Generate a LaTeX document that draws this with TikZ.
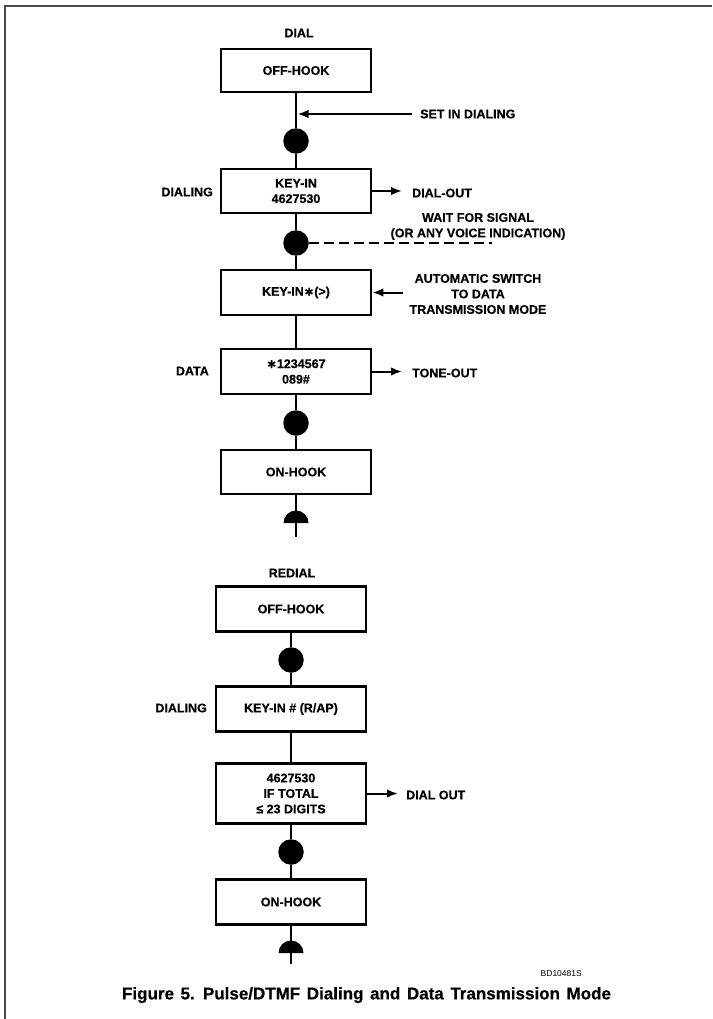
\documentclass[tikz,border=0pt]{standalone}
\usepackage{fontspec}
\setmainfont{Liberation Sans}[BoldFeatures={FakeBold=0.5}]
\newfontfamily\symfont{DejaVu Sans}[BoldFeatures={FakeBold=0.5}]
\usetikzlibrary{arrows.meta}
\newcommand{\cast}{{\symfont\bfseries ∗}}
\begin{document}
\begin{tikzpicture}[x=1pt,y=-1pt,
  txt/.style={font=\fontsize{12.5}{15.5}\selectfont\bfseries, inner sep=0pt, align=center},
  stepbox/.style={draw, line width=2.8pt, minimum width=150pt, inner sep=0pt,
    font=\fontsize{12.5}{15.5}\selectfont\bfseries, align=center},
  dot/.style={circle, fill=black, minimum size=25.5pt, inner sep=0pt},
  link/.style={line width=2.3pt},
  flow/.style={line width=2pt, -{Latex[length=11pt,width=8.5pt]}},
  dome/.style={fill=black},
]
\useasboundingbox (0,0) rectangle (712,1019);

% page frame (top and left rules)
\draw[line width=1.6pt, black!70] (5,1019) -- (5,6) -- (712,6);

% ---------------- DIAL ----------------
\node[txt] (dialT) at (299,33) {DIAL};
\node[stepbox, minimum height=43pt] (off1) at (296,70.5) {OFF-HOOK};
\node[dot] (d1) at (296,141) {};
\node[stepbox, minimum height=44pt] (key1) at (296,191) {KEY-IN\\4627530};
\node[dot] (d2) at (296,243) {};
\node[stepbox, minimum height=45pt] (key2) at (296,292.5) {KEY-IN\cast(>)};
\node[stepbox, minimum height=45pt] (data) at (296,371.5) {\cast1234567\\089\#};
\node[dot] (d3) at (296,423) {};
\node[stepbox, minimum height=44pt] (on1) at (296,472) {ON-HOOK};
\coordinate (dome1) at (296,523);
\coordinate (end1) at (296,537);

\draw[link] (off1.south) -- (d1.north);
\draw[link] (d1.south) -- (key1.north);
\draw[link] (key1.south) -- (d2.north);
\draw[link] (d2.south) -- (key2.north);
\draw[link] (key2.south) -- (data.north);
\draw[link] (data.south) -- (d3.north);
\draw[link] (d3.south) -- (on1.north);
\draw[link] (on1.south) -- (end1);
\fill[dome] (dome1) ++(-12.5pt,0) arc[start angle=180, end angle=0, radius=12.5pt] -- cycle;

% side notes
\coordinate (setinS) at (412,114);
\coordinate (setinE) at (297.5,114);
\draw[flow] (setinS) -- (setinE);
\node[txt, anchor=west] (setin) at (420,114) {SET IN DIALING};

\node[txt, anchor=east] (dialing1) at (213,192) {DIALING};
\coordinate (dialoutE) at (402,191);
\draw[flow] (key1.east) -- (dialoutE);
\node[txt, anchor=west] (dialout) at (412,193) {DIAL-OUT};

\node[txt] (wait) at (478,226.5) {WAIT FOR SIGNAL\\(OR ANY VOICE INDICATION)};
\coordinate (waitE) at (492,243);
\draw[line width=2pt, dash pattern=on 10pt off 5pt] (d2.east) -- (waitE);

\coordinate (autoS) at (403,292.5);
\draw[flow] (autoS) -- (key2.east);
\node[txt] (auto) at (478,294) {AUTOMATIC SWITCH\\TO DATA\\TRANSMISSION MODE};

\node[txt, anchor=east] (datal) at (209,371) {DATA};
\coordinate (toneE) at (402,371.5);
\draw[flow] (data.east) -- (toneE);
\node[txt, anchor=west] (toneout) at (412,373) {TONE-OUT};

% ---------------- REDIAL ----------------
\node[txt] (redialT) at (292,573) {REDIAL};
\node[stepbox, minimum height=45pt] (off2) at (291,609) {OFF-HOOK};
\node[dot] (d4) at (291,660) {};
\node[stepbox, minimum height=45pt] (key3) at (291,709) {KEY-IN \# (R/AP)};
\node[stepbox, minimum height=60pt] (total) at (291,793.5) {4627530\\IF TOTAL\\≤ 23 DIGITS};
\node[dot] (d5) at (291,852) {};
\node[stepbox, minimum height=45pt] (on2) at (291,902) {ON-HOOK};
\coordinate (dome2) at (291,953);
\coordinate (end2) at (291,964);

\draw[link] (off2.south) -- (d4.north);
\draw[link] (d4.south) -- (key3.north);
\draw[link] (key3.south) -- (total.north);
\draw[link] (total.south) -- (d5.north);
\draw[link] (d5.south) -- (on2.north);
\draw[link] (on2.south) -- (end2);
\fill[dome] (dome2) ++(-12.5pt,0) arc[start angle=180, end angle=0, radius=12.5pt] -- cycle;

\node[txt, anchor=east] (dialing2) at (207,708) {DIALING};
\coordinate (dial2E) at (398,793.5);
\draw[flow] (total.east) -- (dial2E);
\node[txt, anchor=west] (dialout2) at (406,795) {DIAL OUT};

% ---------------- caption ----------------
\node[font=\fontsize{8.5}{10}\selectfont, inner sep=0pt, anchor=east] (code) at (582,974) {BD10481S};
\node[font=\fontsize{17}{20}\selectfont\bfseries, inner sep=0pt] (caption) at (366.5,995)
  {\spaceskip=6.6pt\relax Figure 5. Pulse/DTMF Dialing and Data Transmission Mode};
\end{tikzpicture}
\end{document}
